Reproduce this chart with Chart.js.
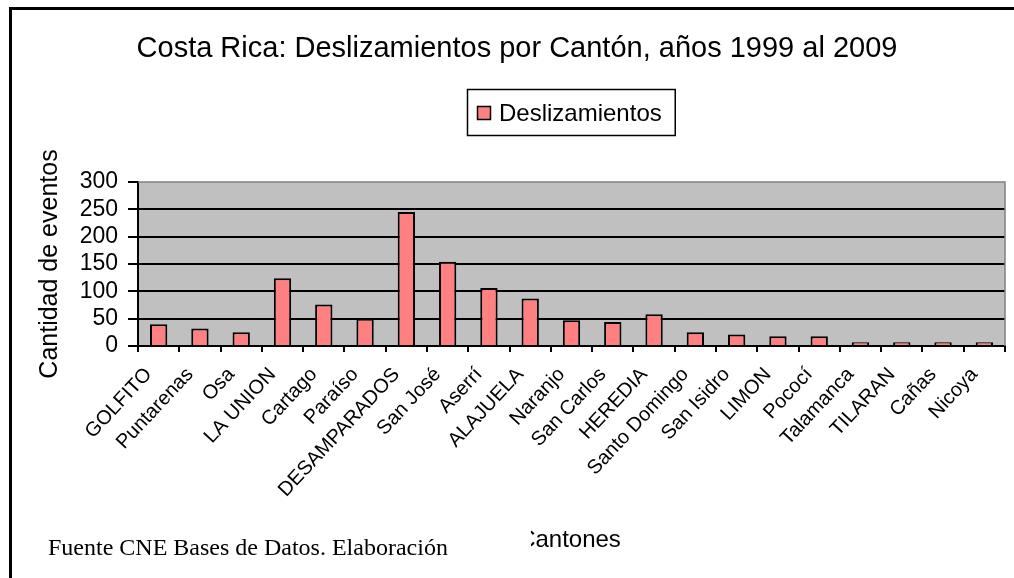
<!DOCTYPE html>
<html><head><meta charset="utf-8">
<script src="https://cdn.jsdelivr.net/npm/chart.js@4"></script>
<style>html,body{margin:0;padding:0;background:#fff}#wrap{width:1014px;height:578px;position:relative}</style>
</head><body><div id="wrap"><canvas id="c" width="1014" height="578"></canvas></div>
<script>
const categories = ['GOLFITO','Puntarenas','Osa','LA UNION','Cartago','Paraíso','DESAMPARADOS','San José','Aserrí','ALAJUELA','Naranjo','San Carlos','HEREDIA','Santo Domingo','San Isidro','LIMON','Pococí','Talamanca','TILARAN','Cañas','Nicoya'];
const deslizamientos = [40,32,25,124,76,50,245,154,106,87,47,44,58,25,21,18,18,7,7,7,7];
const yTickValues = [0,50,100,150,200,250,300];
const chartTitle = 'Costa Rica: Deslizamientos por Cantón, años 1999 al 2009';
const seriesLabel = 'Deslizamientos';
const yTitle = 'Cantidad de eventos';
const xTitle = 'Cantones';
const sourceNote = 'Fuente CNE Bases de Datos. Elaboración';

const SANS = "'Liberation Sans', Arial, sans-serif";
const SERIF = "'Liberation Serif', 'Times New Roman', serif";
Chart.defaults.color = '#000';
Chart.defaults.font.family = SANS;

const decor = {
  id: 'decor',
  beforeDraw(chart) {
    const {ctx, chartArea: a} = chart;
    ctx.save();
    ctx.fillStyle = '#fff'; ctx.fillRect(0, 0, chart.width, chart.height);
    ctx.fillStyle = '#C0C0C0'; ctx.fillRect(a.left, a.top, a.right - a.left, a.bottom - a.top);
    ctx.restore();
  },
  afterDraw(chart) {
    const {ctx, chartArea: a} = chart;
    const ds = chart.data.datasets[0];
    ctx.save();
    // plot-area border (top and right)
    ctx.strokeStyle = '#808080'; ctx.lineWidth = 1.5;
    ctx.beginPath(); ctx.moveTo(a.left, a.top); ctx.lineTo(a.right, a.top); ctx.lineTo(a.right, a.bottom); ctx.stroke();
    // outer chart frame
    ctx.fillStyle = '#000';
    ctx.fillRect(9, 7, chart.width - 9, 3);
    ctx.fillRect(9, 7, 3, chart.height - 7);
    // legend box
    ctx.font = '24px ' + SANS;
    const tw = ctx.measureText(ds.label).width;
    const w = 10 + 14 + 8 + tw + 13;
    const cx = (a.left + a.right) / 2 - 1;
    const lx = Math.round(cx - w / 2), ly = 89, lh = 46;
    ctx.lineWidth = 1.5; ctx.strokeStyle = '#000';
    ctx.strokeRect(lx + 0.5, ly + 0.5, w, lh);
    ctx.fillStyle = ds.backgroundColor;
    ctx.fillRect(lx + 10, ly + 17, 14, 14);
    ctx.strokeRect(lx + 10.5, ly + 17.5, 13, 13);
    ctx.fillStyle = '#000'; ctx.textBaseline = 'alphabetic'; ctx.textAlign = 'left';
    ctx.fillText(ds.label, lx + 32, ly + 32);
    // x axis title (partly hidden behind the source note box)
    ctx.save();
    ctx.beginPath(); ctx.rect(531, 0, chart.width, chart.height); ctx.clip();
    ctx.font = '24px ' + SANS; ctx.textAlign = 'center';
    ctx.fillText(xTitle, cx - 1, 547);
    ctx.restore();
    // source note
    ctx.font = '24px ' + SERIF; ctx.textAlign = 'left'; ctx.fillStyle = '#000';
    ctx.fillText(sourceNote, 48, 555);
    ctx.restore();
  }
};

new Chart(document.getElementById('c'), {
  type: 'bar',
  data: {
    labels: categories,
    datasets: [{
      label: seriesLabel,
      data: deslizamientos,
      backgroundColor: '#FF8080',
      borderColor: '#000',
      borderWidth: {top: 2, left: 2, right: 2, bottom: 0},
      borderSkipped: false,
      barPercentage: 0.42,
      categoryPercentage: 1
    }]
  },
  options: {
    responsive: false,
    animation: false,
    devicePixelRatio: 1,
    layout: {padding: {top: 10, left: 29, right: 9, bottom: 0}},
    plugins: {
      legend: {display: false},
      tooltip: {enabled: false},
      title: {
        display: true, text: chartTitle, color: '#000',
        font: {size: 29, weight: 'normal', family: SANS},
        padding: {top: 21.6, bottom: 115.6}
      }
    },
    scales: {
      x: {
        grid: {display: true, drawOnChartArea: false, drawTicks: true, tickLength: 6, color: '#000', lineWidth: 2, offset: true},
        border: {display: true, color: '#000', width: 2},
        ticks: {autoSkip: false, maxRotation: 47, minRotation: 47, font: {size: 20}, padding: 11, labelOffset: -10, color: '#000'},
        afterFit(s) { s.height = 232; }
      },
      y: {
        min: 0, max: 300,
        afterBuildTicks(s) { s.ticks = yTickValues.map(v => ({value: v})); },
        grid: {
          color: c => (c.tick && c.tick.value === 300) ? 'rgba(0,0,0,0)' : '#000',
          lineWidth: 2, tickColor: '#000', tickLength: 10, tickWidth: 2
        },
        border: {color: '#000', width: 2},
        ticks: {autoSkip: false, font: {size: 23}, padding: 10, color: '#000'},
        title: {display: true, text: yTitle, color: '#000', font: {size: 25}, padding: {top: 6, bottom: 0}},
        afterFit(s) { s.width = 109; }
      }
    }
  },
  plugins: [decor]
});
</script>
</body></html>
